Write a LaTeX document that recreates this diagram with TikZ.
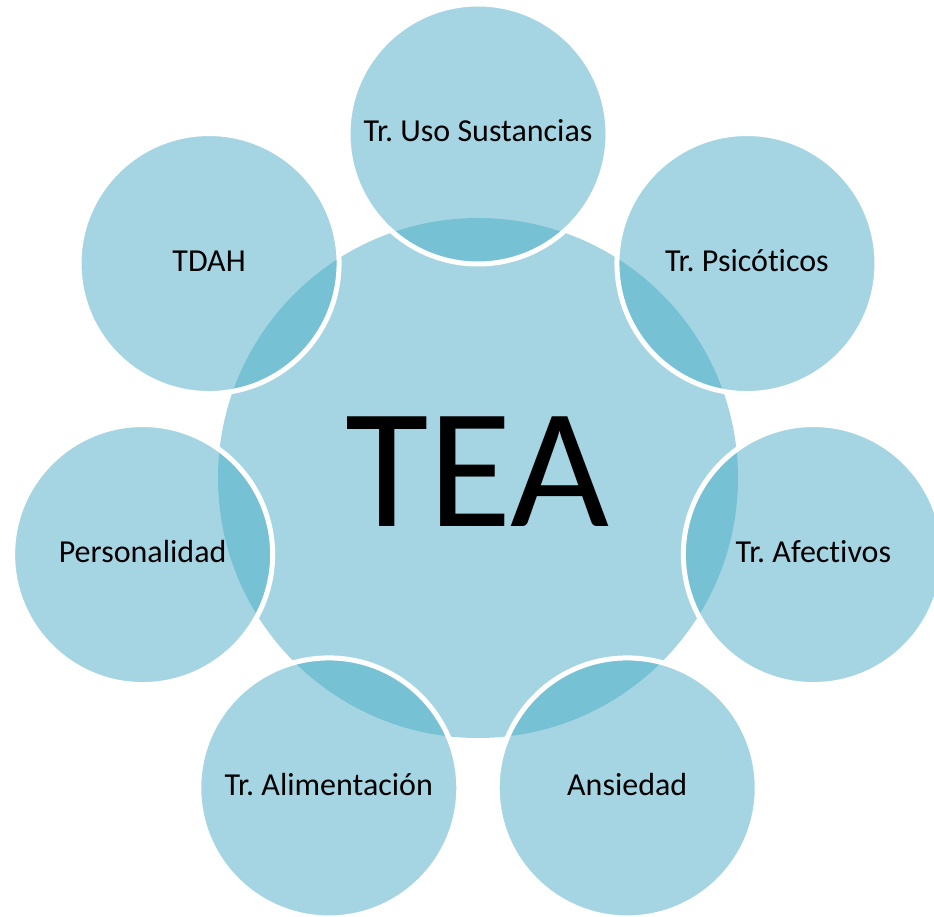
\documentclass[tikz,border=0pt]{standalone}
\usepackage{fontspec}
\setmainfont{Carlito}[Ligatures=NoCommon]
\usetikzlibrary{positioning,calc}
\definecolor{aqua}{HTML}{4BACC6}
\frenchspacing
\tikzset{
  centro/.style={circle, fill=aqua, fill opacity=0.5, text opacity=1, inner sep=0pt,
                 minimum size=520pt},
  circulo/.style={circle, fill=aqua, fill opacity=0.5, text opacity=1, draw=white, line width=5pt,
                  inner sep=0pt, minimum size=260pt, text height=21pt, text depth=5pt,
                  font=\fontsize{32}{38}\selectfont},
}

\begin{document}
\begin{tikzpicture}[x=1pt, y=1pt]
        \useasboundingbox (0,0) rectangle (934,916);
        \node[centro] (tea) at (478,438) {};
        \node[font=\fontsize{171}{171}\selectfont] (sigla) at ($(tea)+(-1,6)$) {TEA};
        \node[circulo] (uso) at ($(tea)+(90:344)$) {Tr. Uso Sustancias};
        \node[circulo] (psic) at ($(tea)+(38.57:344)$) {Tr. Psicóticos};
        \node[circulo] (afec) at ($(tea)+(-12.86:344)$) {Tr. Afectivos};
        \node[circulo] (ansi) at ($(tea)+(-64.29:344)$) {Ansiedad};
        \node[circulo] (alim) at ($(tea)+(-115.71:344)$) {Tr. Alimentación};
        \node[circulo] (pers) at ($(tea)+(-167.14:344)$) {Personalidad};
        \node[circulo] (tdah) at ($(tea)+(141.43:344)$) {TDAH};
      \end{tikzpicture}
\end{document}
